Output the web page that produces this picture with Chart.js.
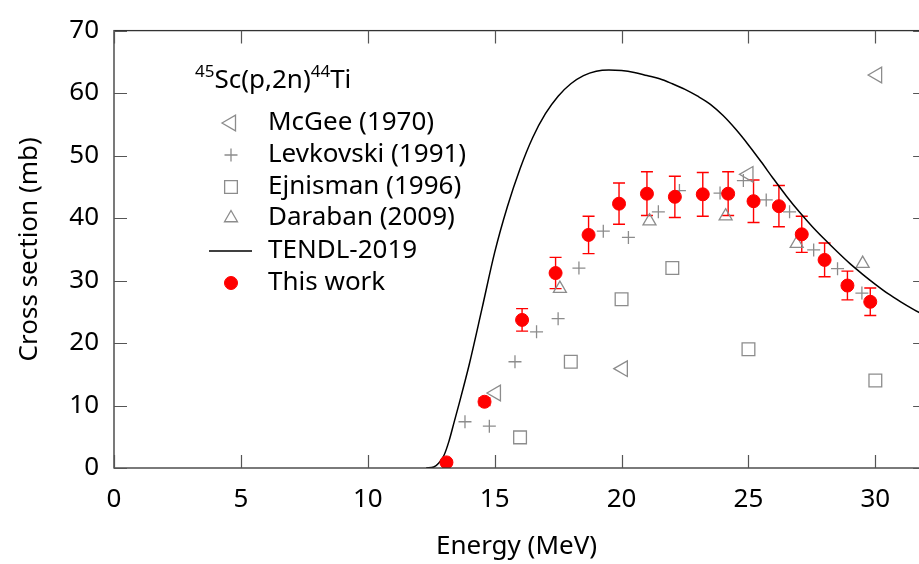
<!DOCTYPE html>
<html>
<head>
<meta charset="utf-8">
<script src="https://cdn.jsdelivr.net/npm/chart.js@4/dist/chart.umd.min.js"></script>
<style>
  html, body { margin: 0; padding: 0; background: #fff; }
  #wrap { width: 919px; height: 564px; position: relative; }
</style>
</head>
<body>
<div id="wrap"><canvas id="c" width="919" height="564"></canvas></div>
<script>
// ---- Data ----
const mcgeeE = [15.05, 20.05, 25.0, 30.07];
const mcgeeXS = [12.0, 15.9, 47.0, 62.9];

const levkovskiE = [13.83, 14.79, 15.8, 16.65, 17.5, 18.32, 19.28, 20.27, 21.45, 22.28, 23.88, 24.8, 25.7, 26.62, 27.57, 28.51, 29.47];
const levkovskiXS = [7.4, 6.7, 17.0, 21.8, 23.9, 32.0, 37.9, 36.9, 41.0, 44.4, 44.0, 46.0, 42.9, 41.0, 34.9, 31.9, 28.0];

const ejnismanE = [16.0, 18.0, 20.0, 22.0, 25.0, 30.0];
const ejnismanXS = [4.9, 17.0, 27.0, 32.0, 19.0, 14.0];

const darabanE = [17.57, 21.1, 24.1, 26.9, 29.5];
const darabanXS = [28.7, 39.5, 40.3, 35.9, 32.7];

const tendlE = [12.3, 12.6, 12.8, 13.0, 13.2, 13.4, 13.6, 13.8, 14.0, 14.5, 15.0, 15.5, 16.0, 16.5, 17.0, 17.5, 18.0, 18.5, 19.0, 19.5, 20.0, 20.5, 21.0, 21.5, 22.0, 22.5, 23.0, 23.5, 24.0, 24.5, 25.0, 25.5, 26.0, 26.5, 27.0, 27.5, 28.0, 28.5, 29.0, 29.5, 30.0, 30.5, 31.0, 31.5, 32.0];
const tendlXS = [0, 0.15, 0.8, 2.0, 4.3, 7.3, 10.3, 13.4, 16.6, 25.5, 34.5, 41.8, 47.9, 52.9, 56.7, 59.5, 61.5, 62.8, 63.5, 63.7, 63.6, 63.3, 62.8, 62.3, 61.5, 60.6, 59.5, 58.2, 56.4, 54.2, 51.7, 49.0, 46.2, 43.5, 41.0, 38.7, 36.6, 34.6, 32.7, 31.0, 29.4, 27.9, 26.6, 25.4, 24.3];

const workE = [13.1, 14.6, 16.08, 17.4, 18.7, 19.9, 21.0, 22.1, 23.2, 24.2, 25.2, 26.2, 27.1, 28.0, 28.9, 29.8];
const workXS = [0.9, 10.6, 23.7, 31.2, 37.3, 42.3, 43.9, 43.4, 43.8, 43.9, 42.7, 41.9, 37.4, 33.3, 29.2, 26.6];
const workErr = [0.3, 0.6, 1.8, 2.5, 3.0, 3.3, 3.5, 3.3, 3.5, 3.5, 3.4, 3.3, 2.9, 2.7, 2.3, 2.2];

const xTicks = [0, 5, 10, 15, 20, 25, 30];
const yTicks = [0, 10, 20, 30, 40, 50, 60, 70];
const xFrameMax = 32;      // right border of the (cropped) frame
const xVisibleMax = 31.72; // part of the axis visible inside the picture

const labels = ['McGee (1970)', 'Levkovski (1991)', 'Ejnisman (1996)', 'Daraban (2009)', 'TENDL-2019', 'This work'];

// ---- helpers ----
const FONT = "'Noto Sans', 'DejaVu Sans', sans-serif";
const GRAY = '#8c8c8c';
const pts = (xs, ys) => xs.map((x, i) => ({ x: x, y: ys[i] }));

const errorBarPlugin = {
  id: 'errorBars',
  beforeDatasetsDraw(chart) {
    const ctx = chart.ctx, xs = chart.scales.x, ys = chart.scales.y;
    ctx.save();
    ctx.strokeStyle = '#ff0000';
    ctx.lineWidth = 1.4;
    workE.forEach((e, i) => {
      const px = xs.getPixelForValue(e);
      const top = ys.getPixelForValue(workXS[i] + workErr[i]);
      const bot = ys.getPixelForValue(workXS[i] - workErr[i]);
      ctx.beginPath();
      ctx.moveTo(px, top); ctx.lineTo(px, bot);
      ctx.moveTo(px - 6, top); ctx.lineTo(px + 6, top);
      ctx.moveTo(px - 6, bot); ctx.lineTo(px + 6, bot);
      ctx.stroke();
    });
    ctx.restore();
  }
};

const framePlugin = {
  id: 'frame',
  afterDraw(chart) {
    const ctx = chart.ctx, a = chart.chartArea, xs = chart.scales.x, ys = chart.scales.y;
    const right = xs.getPixelForValue(xFrameMax);
    ctx.save();
    ctx.strokeStyle = '#333';
    ctx.lineWidth = 1.3;
    ctx.strokeRect(a.left, a.top, right - a.left, a.bottom - a.top);
    ctx.strokeStyle = '#555';
    ctx.lineWidth = 1.2;
    const tl = 13;
    ctx.beginPath();
    xTicks.forEach(v => {
      const p = Math.round(xs.getPixelForValue(v)) + 0.5;
      ctx.moveTo(p, a.bottom); ctx.lineTo(p, a.bottom - tl);
      ctx.moveTo(p, a.top); ctx.lineTo(p, a.top + tl);
    });
    yTicks.forEach(v => {
      const p = Math.round(ys.getPixelForValue(v)) + 0.5;
      ctx.moveTo(a.left, p); ctx.lineTo(a.left + tl, p);
      ctx.moveTo(right, p); ctx.lineTo(right - tl, p);
    });
    ctx.stroke();
    ctx.restore();
  }
};

const legendPlugin = {
  id: 'customLegend',
  afterDraw(chart) {
    const ctx = chart.ctx;
    ctx.save();
    ctx.fillStyle = '#000';
    ctx.textBaseline = 'alphabetic';
    let x = 195;
    const base = 88;
    const parts = [['45', true], ['Sc(p,2n)', false], ['44', true], ['Ti', false]];
    parts.forEach(([t, sup]) => {
      ctx.font = (sup ? '17px ' : '26px ') + FONT;
      ctx.fillText(t, x, sup ? base - 11 : base);
      x += ctx.measureText(t).width;
    });
    const rowY = [123, 155, 187, 218, 251, 283];
    const markX = 231;
    ctx.font = '26px ' + FONT;
    ctx.textBaseline = 'middle';
    chart.data.datasets.forEach((ds, r) => {
      const y = rowY[r];
      if (ds.showLine) {
        ctx.strokeStyle = ds.borderColor;
        ctx.lineWidth = ds.borderWidth;
        ctx.beginPath();
        ctx.moveTo(209, y); ctx.lineTo(252, y);
        ctx.stroke();
      } else {
        ctx.strokeStyle = ds.pointBorderColor;
        ctx.fillStyle = ds.pointBackgroundColor;
        ctx.lineWidth = ds.pointBorderWidth || 1;
        Chart.helpers.drawPoint(ctx, {
          pointStyle: ds.pointStyle,
          rotation: ds.pointRotation || 0,
          radius: ds.pointRadius,
          borderWidth: ds.pointBorderWidth || 1
        }, markX, y);
      }
      ctx.fillStyle = '#000';
      ctx.fillText(labels[r], 268, y);
    });
    ctx.restore();
  }
};

const chart = new Chart(document.getElementById('c'), {
  type: 'scatter',
  data: {
    datasets: [
      { label: labels[0], data: pts(mcgeeE, mcgeeXS), pointStyle: 'triangle', pointRotation: -90, pointRadius: 9,
        pointBackgroundColor: 'rgba(0,0,0,0)', pointBorderColor: GRAY, pointBorderWidth: 1.3, showLine: false, order: 5 },
      { label: labels[1], data: pts(levkovskiE, levkovskiXS), pointStyle: 'cross', pointRadius: 6.5,
        pointBackgroundColor: 'rgba(0,0,0,0)', pointBorderColor: GRAY, pointBorderWidth: 1.3, showLine: false, order: 4 },
      { label: labels[2], data: pts(ejnismanE, ejnismanXS), pointStyle: 'rect', pointRadius: 9,
        pointBackgroundColor: 'rgba(0,0,0,0)', pointBorderColor: GRAY, pointBorderWidth: 1.3, showLine: false, order: 3 },
      { label: labels[3], data: pts(darabanE, darabanXS), pointStyle: 'triangle', pointRadius: 7.5,
        pointBackgroundColor: 'rgba(0,0,0,0)', pointBorderColor: GRAY, pointBorderWidth: 1.3, showLine: false, order: 2 },
      { label: labels[4], data: pts(tendlE, tendlXS), showLine: true, borderColor: '#000', borderWidth: 1.5,
        pointRadius: 0, cubicInterpolationMode: 'monotone', fill: false, order: 1 },
      { label: labels[5], data: pts(workE, workXS), pointStyle: 'circle', pointRadius: 6.5,
        pointBackgroundColor: '#ff0000', pointBorderColor: '#ff0000', pointBorderWidth: 1, showLine: false, order: 0 }
    ]
  },
  options: {
    responsive: false,
    animation: false,
    devicePixelRatio: 1,
    layout: { autoPadding: false, padding: { left: 0, top: 22, right: 0, bottom: 0 } },
    plugins: { legend: { display: false }, tooltip: { enabled: false } },
    scales: {
      x: {
        type: 'linear', min: 0, max: xVisibleMax,
        grid: { display: false, drawTicks: false },
        border: { display: false },
        ticks: { stepSize: 5, includeBounds: false, color: '#000', padding: 16, maxRotation: 0, font: { family: FONT, size: 26 } },
        title: { display: true, text: 'Energy (MeV)', color: '#000', padding: { top: 0, bottom: 2 }, font: { family: FONT, size: 26 } },
        afterFit(s) { s.height = 96; }
      },
      y: {
        type: 'linear', min: 0, max: 70,
        grid: { display: false, drawTicks: false },
        border: { display: false },
        ticks: { stepSize: 10, color: '#000', padding: 15, font: { family: FONT, size: 26 } },
        title: { display: true, text: 'Cross section (mb)', color: '#000', padding: { top: 14, bottom: 0 }, font: { family: FONT, size: 26 } },
        afterFit(s) { s.width = 114; }
      }
    }
  },
  plugins: [errorBarPlugin, framePlugin, legendPlugin]
});
</script>
</body>
</html>
